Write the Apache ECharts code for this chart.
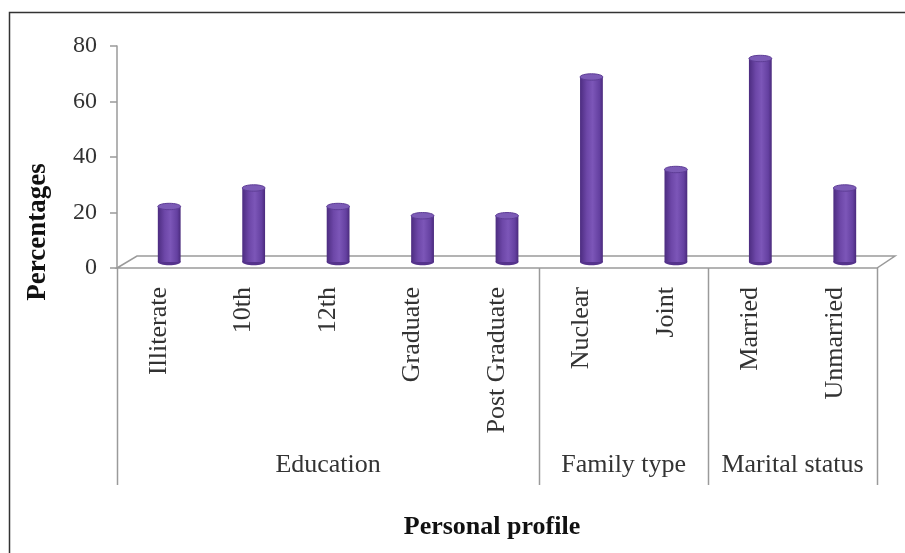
<!DOCTYPE html>
<html>
<head>
<meta charset="utf-8">
<style>
  html, body { margin: 0; padding: 0; background: #ffffff; }
  #chart { width: 905px; height: 553px; }
</style>
<script src="https://cdn.jsdelivr.net/npm/echarts@6/dist/echarts.min.js"></script>
</head>
<body>
<div id="chart"></div>
<script>
// Personal profile of respondents (percentages)
const categories = ['Illiterate', '10th', '12th', 'Graduate', 'Post Graduate', 'Nuclear', 'Joint', 'Married', 'Unmarried'];
const percentages = [20, 26.67, 20, 16.67, 16.67, 66.67, 33.33, 73.33, 26.67];
const groupNames = ['Education', 'Family type', 'Marital status'];
const groupSizes = [5, 2, 2];
const yTicks = [0, 20, 40, 60, 80];

const SERIF = '"Liberation Serif", "Times New Roman", serif';
const DEPTH_X = 20;   // floor depth, horizontal shift of the back edge
const DEPTH_Y = 12;   // floor depth, vertical shift of the back edge
const LINE = '#9a9a9a';

const chart = echarts.init(document.getElementById('chart'), null, { renderer: 'canvas' });

// Floor parallelogram plus group separators and group names below the axis
function renderFloor(params, api) {
  const cs = params.coordSys;
  const x0 = cs.x, x1 = cs.x + cs.width, yf = cs.y + cs.height;
  const band = cs.width / categories.length;
  const children = [{
    type: 'polygon',
    shape: { points: [[x0, yf], [x0 + DEPTH_X, yf - DEPTH_Y], [x1 + DEPTH_X - 2, yf - DEPTH_Y], [x1, yf]] },
    style: { fill: '#ffffff', stroke: LINE, lineWidth: 1.5 }
  }];
  let start = 0;
  const bounds = [0];
  groupSizes.forEach(n => { start += n; bounds.push(start); });
  bounds.forEach(b => {
    const x = Math.round(x0 + b * band) + 0.5;
    children.push({
      type: 'line',
      shape: { x1: x, y1: yf, x2: x, y2: yf + 217 },
      style: { stroke: LINE, lineWidth: 1.5 }
    });
  });
  groupNames.forEach((name, k) => {
    const cx = x0 + (bounds[k] + bounds[k + 1]) / 2 * band;
    children.push({
      type: 'text',
      style: {
        text: name, x: cx, y: yf + 197,
        align: 'center', verticalAlign: 'middle',
        font: '26px ' + SERIF, fill: '#333333'
      }
    });
  });
  return { type: 'group', children: children };
}

// Cylindrical column standing in the middle of the floor depth
function renderCylinder(params, api) {
  const i = api.value(0), v = api.value(1);
  const base = api.coord([i, 0]);
  const top = api.coord([i, v]);
  const w = api.size([1, 0])[0] * 0.27;
  const cx = base[0] + DEPTH_X / 2;
  const yb = base[1] - DEPTH_Y / 2;
  const yt = top[1] - DEPTH_Y / 2;
  const ry = 3.2;
  const body = new echarts.graphic.LinearGradient(0, 0, 1, 0, [
    { offset: 0, color: '#4c2c80' },
    { offset: 0.3, color: '#6d47a8' },
    { offset: 0.55, color: '#7c56b8' },
    { offset: 0.85, color: '#6440a0' },
    { offset: 1, color: '#4a2a7c' }
  ]);
  return {
    type: 'group',
    children: [
      { type: 'ellipse', shape: { cx: cx, cy: yb, rx: w / 2, ry: ry }, style: { fill: '#55338c' } },
      { type: 'rect', shape: { x: cx - w / 2, y: yt, width: w, height: yb - yt }, style: { fill: body } },
      { type: 'ellipse', shape: { cx: cx, cy: yt, rx: w / 2, ry: ry }, style: { fill: '#7c5bb6', stroke: '#5e3d96', lineWidth: 1 } }
    ]
  };
}

chart.setOption({
  animation: false,
  backgroundColor: '#ffffff',
  grid: { left: 117, right: 28, top: 46, bottom: 285 },
  xAxis: {
    type: 'category',
    data: categories,
    axisLine: { show: false },
    axisTick: { show: false },
    axisLabel: {
      rotate: 90, margin: 19, interval: 0,
      fontFamily: SERIF, fontSize: 26, color: '#333333'
    }
  },
  yAxis: {
    type: 'value',
    min: yTicks[0], max: yTicks[yTicks.length - 1], interval: 20,
    axisLine: { show: true, lineStyle: { color: LINE, width: 1.5 } },
    axisTick: { show: true, length: 7, lineStyle: { color: LINE, width: 1.5 } },
    splitLine: { show: false },
    axisLabel: { margin: 20, fontFamily: SERIF, fontSize: 24, color: '#333333' }
  },
  graphic: [
    { type: 'rect', z: 100, silent: true,
      shape: { x: 9.5, y: 12.5, width: 1000, height: 1000 },
      style: { fill: 'none', stroke: '#333333', lineWidth: 1.5 } },
    { type: 'text', x: 38, y: 232, rotation: Math.PI / 2, z: 100,
      style: { text: 'Percentages', align: 'center', verticalAlign: 'middle',
        font: 'bold 27px ' + SERIF, fill: '#111111' } },
    { type: 'text', x: 492, y: 527, z: 100,
      style: { text: 'Personal profile', align: 'center', verticalAlign: 'middle',
        font: 'bold 26px ' + SERIF, fill: '#111111' } }
  ],
  series: [
    { type: 'custom', name: 'floor', data: [[0, 0]], renderItem: renderFloor, z: 1, silent: true, clip: false },
    { type: 'custom', name: 'Percentages',
      data: percentages.map((v, i) => [i, v]),
      renderItem: renderCylinder, z: 2, clip: false }
  ]
});
</script>
</body>
</html>
